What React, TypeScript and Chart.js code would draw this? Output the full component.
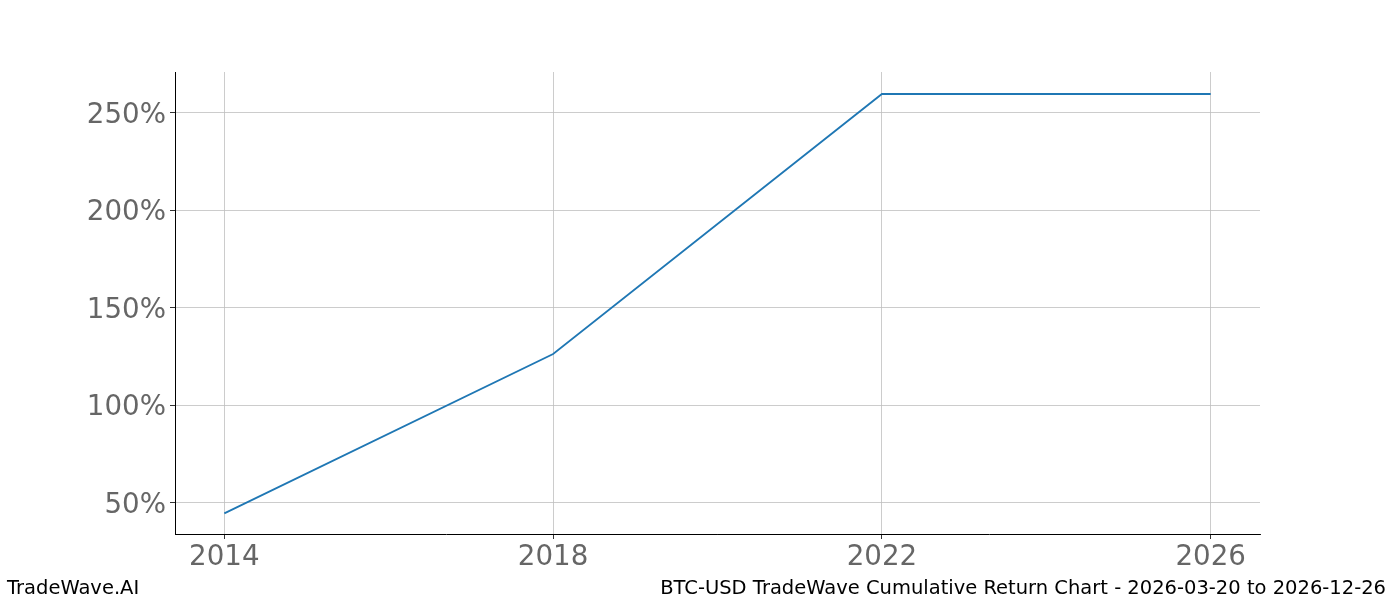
import React, { useEffect, useRef } from "react";
import { Chart, registerables } from "chart.js";

Chart.register(...registerables);

const years = [2014, 2018, 2022, 2026];
const returns = [44.4, 126.2, 259.7, 259.7];
const xTicks = [2014, 2018, 2022, 2026];
const yTicks = [50, 100, 150, 200, 250];
const leftLabel = "TradeWave.AI";
const rightLabel = "BTC-USD TradeWave Cumulative Return Chart - 2026-03-20 to 2026-12-26";

export default function App() {
  const ref = useRef<HTMLCanvasElement | null>(null);
  useEffect(() => {
    if (!ref.current) return;
    const chart = new Chart(ref.current, {
      type: "line",
      data: {
        datasets: [
          {
            data: years.map((x, i) => ({ x, y: returns[i] })),
            borderColor: "#1f77b4",
            borderWidth: 1.8,
            pointRadius: 0,
            tension: 0,
            fill: false,
          },
        ],
      },
      options: {
        animation: false,
        responsive: false,
        maintainAspectRatio: false,
        layout: { padding: { top: 72, right: 140, left: 0, bottom: 0 } },
        plugins: { legend: { display: false }, tooltip: { enabled: false } },
        scales: {
          x: {
            type: "linear",
            min: 2013.4,
            max: 2026.6,
            afterBuildTicks: (s: any) => {
              s.ticks = xTicks.map((v) => ({ value: v }));
            },
            afterFit: (s: any) => {
              s.height = 66;
            },
            ticks: {
              callback: (v: any) => String(v),
              font: { family: "DejaVu Sans", size: 27.7 },
              color: "#666666",
              padding: 2,
              maxRotation: 0,
            },
            grid: { color: "#bfbfbf", lineWidth: 0.8, tickLength: 5, tickColor: "#000", drawTicks: true },
            border: { display: true, color: "#000", width: 1 },
          },
          y: {
            type: "linear",
            min: 33.8,
            max: 271,
            afterBuildTicks: (s: any) => {
              s.ticks = yTicks.map((v) => ({ value: v }));
            },
            afterFit: (s: any) => {
              s.width = 175;
            },
            ticks: {
              callback: (v: any) => v + "%",
              font: { family: "DejaVu Sans", size: 27.7 },
              color: "#666666",
              padding: 4,
              labelOffset: 3,
            },
            grid: { color: "#bfbfbf", lineWidth: 0.8, tickLength: 5, tickColor: "#000", drawTicks: true },
            border: { display: true, color: "#000", width: 1 },
          },
        },
      },
    });
    return () => chart.destroy();
  }, []);
  const footer: React.CSSProperties = {
    position: "absolute",
    top: 576,
    fontFamily: "DejaVu Sans",
    fontSize: 19.5,
    color: "#000",
    whiteSpace: "nowrap",
    lineHeight: "24px",
  };
  return (
    <div style={{ position: "fixed", left: 0, top: 0, width: 1400, height: 600, background: "#fff" }}>
      <canvas ref={ref} width={1400} height={600} style={{ width: 1400, height: 600 }} />
      <div style={{ ...footer, left: 7 }}>{leftLabel}</div>
      <div style={{ ...footer, right: 14 }}>{rightLabel}</div>
    </div>
  );
}
